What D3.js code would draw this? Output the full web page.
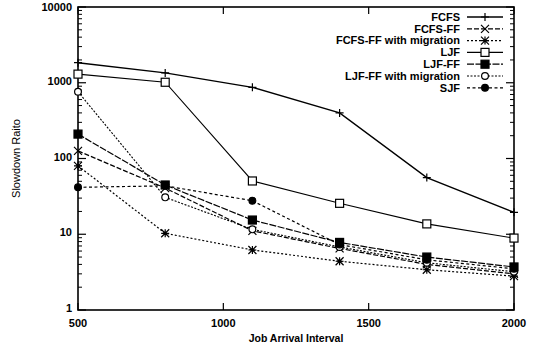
<!DOCTYPE html>
<html>
<head>
<meta charset="utf-8">
<script src="https://cdn.jsdelivr.net/npm/d3@7"></script>
<style>
  body { margin: 0; background: #fff; }
  text { font-family: "Liberation Sans", Arial, sans-serif; }
</style>
</head>
<body>
<div id="chart"></div>
<script>
// data
var intervals = [500, 800, 1100, 1400, 1700, 2000];
var seriesNames = ["FCFS", "FCFS-FF", "FCFS-FF with migration", "LJF", "LJF-FF", "LJF-FF with migration", "SJF"];
var fcfs      = [1840, 1350, 870, 400, 56, 19.5];
var fcfsFF    = [126, 40.7, 11.1, 6.5, 4.0, 3.0];
var fcfsFFMig = [80, 10.3, 6.2, 4.4, 3.4, 2.8];
var ljf       = [1300, 1015, 50.5, 25.6, 13.7, 8.9];
var ljfFF     = [210, 44.7, 15.4, 7.8, 5.0, 3.7];
var ljfFFMig  = [760, 30.7, 11.6, 6.8, 4.2, 3.2];
var sjf       = [41.6, 43.6, 27.7, 7.3, 4.6, 3.5];
var yTicks = [1, 10, 100, 1000, 10000];
var xTicks = [500, 1000, 1500, 2000];

var allSeries = [fcfs, fcfsFF, fcfsFFMig, ljf, ljfFF, ljfFFMig, sjf];
// style per series: dash, marker
var styles = [
  { dash: null, width: 1.4, marker: "plus" },
  { dash: "5,2", width: 1.2, marker: "cross" },
  { dash: "2,2", width: 1.2, marker: "star" },
  { dash: null, width: 1.1, marker: "square" },
  { dash: "7,1.5", width: 1.2, marker: "squareFill" },
  { dash: "2,1.5", width: 1.1, marker: "circle" },
  { dash: "3,2.5", width: 1.2, marker: "circleFill" }
];

var width = 540, height = 349;
var margin = { top: 7, right: 26, bottom: 39, left: 78 };
var w = width - margin.left - margin.right,
    h = height - margin.top - margin.bottom;

var svg = d3.select("#chart").append("svg")
  .attr("width", width)
  .attr("height", height);

var g = svg.append("g")
  .attr("transform", "translate(" + margin.left + "," + margin.top + ")");

var x = d3.scaleLinear().domain([500, 2000]).range([0, w]);
var y = d3.scaleLog().domain([1, 10000]).range([h, 0]);

// minor ticks for log axis
var minor = [];
for (var d = 1; d < 10000; d *= 10) {
  for (var k = 2; k <= 9; k++) minor.push(d * k);
}

// ticks (inward) left and right
g.selectAll(".minorL").data(minor).enter().append("line")
  .attr("x1", 0).attr("x2", 4)
  .attr("y1", function(d) { return y(d); }).attr("y2", function(d) { return y(d); })
  .attr("stroke", "#000").attr("stroke-width", 1);
g.selectAll(".minorR").data(minor).enter().append("line")
  .attr("x1", w).attr("x2", w - 4)
  .attr("y1", function(d) { return y(d); }).attr("y2", function(d) { return y(d); })
  .attr("stroke", "#000").attr("stroke-width", 1);
g.selectAll(".majorL").data(yTicks).enter().append("line")
  .attr("x1", 0).attr("x2", 8)
  .attr("y1", function(d) { return y(d); }).attr("y2", function(d) { return y(d); })
  .attr("stroke", "#000").attr("stroke-width", 1.2);
g.selectAll(".majorR").data(yTicks).enter().append("line")
  .attr("x1", w).attr("x2", w - 8)
  .attr("y1", function(d) { return y(d); }).attr("y2", function(d) { return y(d); })
  .attr("stroke", "#000").attr("stroke-width", 1.2);

// x ticks bottom and top
g.selectAll(".xb").data(xTicks).enter().append("line")
  .attr("x1", function(d) { return x(d); }).attr("x2", function(d) { return x(d); })
  .attr("y1", h).attr("y2", h - 7)
  .attr("stroke", "#000").attr("stroke-width", 1.2);
g.selectAll(".xt").data(xTicks).enter().append("line")
  .attr("x1", function(d) { return x(d); }).attr("x2", function(d) { return x(d); })
  .attr("y1", 0).attr("y2", 7)
  .attr("stroke", "#000").attr("stroke-width", 1.2);

// frame
g.append("rect")
  .attr("x", 0).attr("y", 0).attr("width", w).attr("height", h)
  .attr("fill", "none").attr("stroke", "#000").attr("stroke-width", 1.6);

// tick labels
g.selectAll(".ylab").data(yTicks).enter().append("text")
  .attr("x", -6)
  .attr("y", function(d) { return y(d); })
  .attr("dy", function(d) { return d === 10000 ? "0.4em" : "0.2em"; })
  .attr("text-anchor", "end")
  .style("font-size", "11px").style("font-weight", "bold")
  .text(function(d) { return d; });

g.selectAll(".xlab").data(xTicks).enter().append("text")
  .attr("x", function(d) { return x(d); })
  .attr("y", h + 17)
  .attr("text-anchor", "middle")
  .style("font-size", "11px").style("font-weight", "bold")
  .text(function(d) { return d; });

// axis titles
svg.append("text")
  .attr("x", margin.left + w / 2)
  .attr("y", 342)
  .attr("text-anchor", "middle")
  .style("font-size", "10.5px").style("font-weight", "bold")
  .text("Job Arrival Interval");

svg.append("text")
  .attr("transform", "translate(20," + (margin.top + h / 2) + ") rotate(-90)")
  .attr("text-anchor", "middle")
  .style("font-size", "11px")
  .text("Slowdown Raito");

function drawMarker(sel, type, cx, cy) {
  var s = 4;
  if (type === "plus") {
    sel.append("path").attr("d", "M" + (cx - s) + "," + cy + "H" + (cx + s) + "M" + cx + "," + (cy - s) + "V" + (cy + s))
      .attr("stroke", "#000").attr("stroke-width", 1.2);
  } else if (type === "cross") {
    sel.append("path").attr("d", "M" + (cx - s) + "," + (cy - s) + "L" + (cx + s) + "," + (cy + s) + "M" + (cx - s) + "," + (cy + s) + "L" + (cx + s) + "," + (cy - s))
      .attr("stroke", "#000").attr("stroke-width", 1.2);
  } else if (type === "star") {
    sel.append("path").attr("d", "M" + (cx - s) + "," + (cy - s) + "L" + (cx + s) + "," + (cy + s) + "M" + (cx - s) + "," + (cy + s) + "L" + (cx + s) + "," + (cy - s) +
      "M" + (cx - s) + "," + cy + "H" + (cx + s) + "M" + cx + "," + (cy - s) + "V" + (cy + s))
      .attr("stroke", "#000").attr("stroke-width", 1.2);
  } else if (type === "square" || type === "squareFill") {
    sel.append("rect").attr("x", cx - 4).attr("y", cy - 4).attr("width", 8).attr("height", 8)
      .attr("fill", type === "square" ? "#fff" : "#000").attr("stroke", "#000").attr("stroke-width", 1.2);
  } else {
    sel.append("circle").attr("cx", cx).attr("cy", cy).attr("r", 3.4)
      .attr("fill", type === "circle" ? "#fff" : "#000").attr("stroke", "#000").attr("stroke-width", 1.2);
  }
}

var line = d3.line()
  .x(function(d, i) { return x(intervals[i]); })
  .y(function(d) { return y(d); });

allSeries.forEach(function(vals, si) {
  var st = styles[si];
  g.append("path")
    .datum(vals)
    .attr("d", line)
    .attr("fill", "none")
    .attr("stroke", "#000")
    .attr("stroke-width", st.width)
    .attr("stroke-dasharray", st.dash);
  var mg = g.append("g");
  vals.forEach(function(v, i) {
    drawMarker(mg, st.marker, x(intervals[i]), y(v));
  });
});

// legend
var legend = svg.append("g");
seriesNames.forEach(function(name, i) {
  var ly = 17 + i * 11.8;
  var st = styles[i];
  legend.append("text")
    .attr("x", 460).attr("y", ly).attr("dy", "0.35em")
    .attr("text-anchor", "end")
    .style("font-size", "11px").style("font-weight", "bold")
    .text(name);
  legend.append("line")
    .attr("x1", 467).attr("x2", 503).attr("y1", ly).attr("y2", ly)
    .attr("stroke", "#000").attr("stroke-width", st.width)
    .attr("stroke-dasharray", st.dash);
  drawMarker(legend, st.marker, 485, ly);
});
</script>
</body>
</html>
